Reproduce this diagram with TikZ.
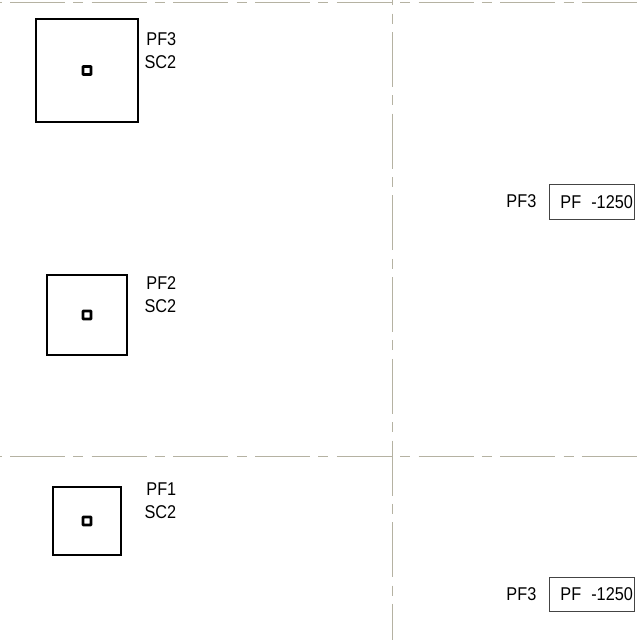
\documentclass[tikz,border=0pt]{standalone}
\usepackage{fontspec}
\setmainfont[FakeStretch=0.88]{Liberation Sans}
\definecolor{gridtan}{HTML}{B5B2A2}
\definecolor{boxgrey}{HTML}{444444}
\tikzset{
  gridline/.style={draw=gridtan,line width=1pt,dash pattern=on 55pt off 8.35pt on 10pt off 8.35pt},
  column/.style={draw=black,line width=2.3pt,inner sep=0pt,outer sep=0pt,minimum size=#1,shape=rectangle},
  core/.style={draw=black,line width=2.8pt,inner sep=0pt,outer sep=0pt,minimum size=8pt,rounded corners=0.6pt,shape=rectangle},
  lab/.style={anchor=base east,inner sep=0pt,outer sep=0pt,font=\fontsize{18.5pt}{20pt}\selectfont},
  valbox/.style={draw=boxgrey,line width=1.1pt,inner sep=0pt,outer sep=0pt,minimum width=85pt,minimum height=34.5pt,font=\fontsize{18.5pt}{20pt}\selectfont}
}
\begin{document}
\begin{tikzpicture}[x=1pt,y=-1pt]
\useasboundingbox (0,0) rectangle (640,640);
\fill[white] (0,0) rectangle (640,640);
\begin{scope}
\clip (0,0) rectangle (640,640);
\coordinate (hta) at (-71.7,2.3);
\coordinate (htb) at (700,2.3);
\coordinate (hba) at (-71.7,456);
\coordinate (hbb) at (700,456);
\coordinate (va) at (392.7,-49.7);
\coordinate (vb) at (392.7,700);
\draw[gridline] (hta) -- (htb);
\draw[gridline] (hba) -- (hbb);
\draw[gridline] (va) -- (vb);
\end{scope}
\node[column=102.5pt] (c3) at (87,70.5) {};
\node[column=80pt] (c2) at (87,315) {};
\node[column=68pt] (c1) at (87,521) {};
\node[core] (k3) at (87,70.5) {};
\node[core] (k2) at (87,315) {};
\node[core] (k1) at (87,521) {};
\node[lab] (l3a) at (176.3,45.7) {PF3};
\node[lab] (l3b) at (176.3,68.7) {SC2};
\node[lab] (l2a) at (176.3,289.7) {PF2};
\node[lab] (l2b) at (176.3,312.7) {SC2};
\node[lab] (l1a) at (176.3,495.7) {PF1};
\node[lab] (l1b) at (176.3,518.7) {SC2};
\node[lab] (r1) at (536.3,207.7) {PF3};
\node[lab] (r2) at (536.3,600.7) {PF3};
\node[valbox] (b1) at (592.2,202) {\hspace*{9pt}PF\hspace{10pt}-1250};
\node[valbox] (b2) at (592.2,594.5) {\hspace*{9pt}PF\hspace{10pt}-1250};
\end{tikzpicture}
\end{document}
